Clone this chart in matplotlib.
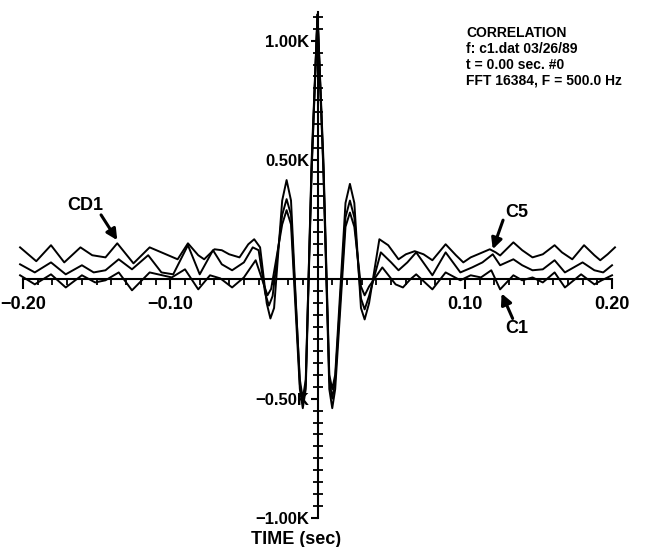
import numpy as np
import matplotlib
matplotlib.use('Agg')
import matplotlib.pyplot as plt
from matplotlib.ticker import MultipleLocator, FixedLocator

plt.rcParams['font.family'] = ['Liberation Sans Narrow', 'Liberation Sans', 'DejaVu Sans']

# time (sec) and correlation (K)
t_cd1 = [-0.202, -0.191, -0.181, -0.172, -0.161, -0.153, -0.144, -0.136, -0.125, -0.114,
         -0.106, -0.095, -0.088, -0.081, -0.077, -0.070, -0.065, -0.060, -0.053, -0.047,
         -0.043, -0.039, -0.0345, -0.032, -0.0295, -0.024, -0.021, -0.018, -0.012, -0.010,
         -0.008, -0.004, 0.0, 0.004, 0.008, 0.010, 0.012, 0.019,
         0.022, 0.025, 0.0295, 0.032, 0.035, 0.042, 0.048, 0.055, 0.060, 0.066,
         0.072, 0.078, 0.087, 0.094, 0.099, 0.104, 0.109, 0.117, 0.121, 0.124,
         0.133, 0.139, 0.146, 0.153, 0.161, 0.166, 0.173, 0.181, 0.188, 0.192, 0.197, 0.202]
cd1 = [0.134, 0.076, 0.143, 0.071, 0.134, 0.101, 0.092, 0.151, 0.067, 0.134,
       0.113, 0.084, 0.151, 0.101, 0.084, 0.126, 0.122, 0.105, 0.092, 0.147,
       0.168, 0.134, -0.10, -0.164, -0.12, 0.33, 0.416, 0.33, -0.44, -0.52,
       -0.44, 0.50, 1.11, 0.50, -0.40, -0.46, -0.40, 0.32,
       0.40, 0.32, -0.12, -0.168, -0.10, 0.168, 0.143, 0.084, 0.105, 0.118,
       0.105, 0.080, 0.147, 0.101, 0.071, 0.092, 0.105, 0.126, 0.113, 0.100,
       0.155, 0.122, 0.092, 0.105, 0.143, 0.113, 0.084, 0.143, 0.101, 0.080, 0.105, 0.134]

t_c5 = [-0.202, -0.192, -0.181, -0.171, -0.160, -0.152, -0.144, -0.135, -0.126, -0.115,
        -0.106, -0.098, -0.088, -0.080, -0.071, -0.065, -0.058, -0.050, -0.044, -0.040,
        -0.0355, -0.033, -0.0305, -0.024, -0.021, -0.018, -0.012, -0.010, -0.008, -0.004,
        0.0, 0.004, 0.008, 0.010, 0.012, 0.019, 0.022, 0.025, 0.0295, 0.032,
        0.035, 0.043, 0.050, 0.055, 0.061, 0.067, 0.078, 0.087, 0.097, 0.105,
        0.112, 0.119, 0.124, 0.133, 0.139, 0.146, 0.153, 0.161, 0.168, 0.180,
        0.188, 0.194, 0.200]
c5 = [0.063, 0.029, 0.071, 0.021, 0.059, 0.029, 0.038, 0.084, 0.042, 0.101,
      0.029, 0.021, 0.143, 0.021, 0.122, 0.063, 0.038, 0.071, 0.134, 0.122,
      -0.06, -0.11, -0.07, 0.27, 0.336, 0.27, -0.42, -0.50, -0.42, 0.47,
      1.11, 0.47, -0.42, -0.50, -0.42, 0.26, 0.33, 0.26, -0.08, -0.126,
      -0.07, 0.113, 0.071, 0.038, 0.071, 0.113, 0.017, 0.113, 0.029, 0.050,
      0.071, 0.105, 0.059, 0.084, 0.059, 0.038, 0.042, 0.080, 0.029, 0.071,
      0.038, 0.029, 0.059]

t_c1 = [-0.202, -0.192, -0.181, -0.171, -0.160, -0.151, -0.144, -0.135, -0.126, -0.114,
        -0.099, -0.090, -0.081, -0.073, -0.066, -0.058, -0.050, -0.042, -0.036, -0.034,
        -0.0315, -0.024, -0.021, -0.018, -0.012, -0.010, -0.008, -0.004, 0.0, 0.004,
        0.008, 0.010, 0.012, 0.019, 0.022, 0.025, 0.0295, 0.032, 0.035, 0.044,
        0.053, 0.058, 0.063, 0.067, 0.078, 0.087, 0.097, 0.104, 0.111, 0.118,
        0.124, 0.133, 0.139, 0.146, 0.153, 0.161, 0.168, 0.179, 0.188, 0.193,
        0.200]
c1 = [0.017, -0.021, 0.021, -0.034, 0.017, -0.013, -0.004, 0.029, -0.046, 0.029,
      0.008, 0.042, -0.042, 0.017, 0.004, -0.034, 0.008, 0.080, -0.03, -0.067,
      -0.04, 0.23, 0.29, 0.23, -0.46, -0.54, -0.46, 0.45, 1.11, 0.45,
      -0.46, -0.54, -0.46, 0.22, 0.28, 0.22, -0.03, -0.067, -0.03, 0.050,
      -0.021, -0.034, 0.000, 0.021, -0.042, 0.029, -0.004, 0.017, 0.008, 0.038,
      -0.042, 0.017, -0.004, 0.008, -0.013, 0.029, -0.034, 0.021, -0.021, -0.004,
      0.017]

info = 'CORRELATION\nf: c1.dat 03/26/89\nt = 0.00 sec. #0\nFFT 16384, F = 500.0 Hz'

fig = plt.figure(figsize=(6.52, 5.47), dpi=100)
ax = fig.add_axes([0.0353, 0.053, 0.9034, 0.925])

for t, c in [(t_cd1, cd1), (t_c5, c5), (t_c1, c1)]:
    ax.plot(t, c, color='black', lw=1.4, solid_joinstyle='round', clip_on=False)

ax.set_xlim(-0.2, 0.2)
ax.set_ylim(-1.0, 1.12)

ax.spines['left'].set_position(('data', 0))
ax.spines['bottom'].set_position(('data', 0))
ax.spines['top'].set_visible(False)
ax.spines['right'].set_visible(False)
ax.spines['left'].set_linewidth(1.5)
ax.spines['bottom'].set_linewidth(1.5)

ax.xaxis.set_major_locator(FixedLocator([-0.2, -0.1, 0.1, 0.2]))
ax.xaxis.set_minor_locator(MultipleLocator(0.01))
ax.set_xticklabels(['\u22120.20', '\u22120.10', '0.10', '0.20'])
ax.yaxis.set_major_locator(FixedLocator([-1.0, -0.5, 0.5, 1.0]))
ax.yaxis.set_minor_locator(MultipleLocator(0.05))
ax.set_yticklabels(['\u22121.00K', '\u22120.50K', '0.50K', '1.00K'])

ax.tick_params(axis='x', which='major', direction='out', length=7, width=1.5,
               pad=5, labelsize=13)
ax.tick_params(axis='x', which='minor', direction='out', length=4, width=1.3)
ax.tick_params(axis='y', which='major', direction='out', length=5, width=1.5,
               pad=1, labelsize=12)
ax.tick_params(axis='y', which='minor', direction='inout', length=7, width=1.3)
for lab in ax.get_xticklabels() + ax.get_yticklabels():
    lab.set_fontweight('bold')

ax.text(-0.0146, -1.09, 'TIME (sec)', ha='center', va='center', fontsize=13,
        fontweight='bold', clip_on=False)
ax.text(0.101, 1.06, info, ha='left', va='top', fontsize=10, fontweight='bold',
        linespacing=1.15)

ax.text(-0.158, 0.31, 'CD1', ha='center', va='center', fontsize=13, fontweight='bold')
ax.text(0.135, 0.28, 'C5', ha='center', va='center', fontsize=13, fontweight='bold')
ax.text(0.135, -0.205, 'C1', ha='center', va='center', fontsize=13, fontweight='bold')

arrow = dict(arrowstyle='-|>', color='black', lw=2.2, mutation_scale=16,
             shrinkA=0, shrinkB=0)
ax.annotate('', xy=(-0.136, 0.164), xytext=(-0.147, 0.27), arrowprops=arrow)
ax.annotate('', xy=(0.119, 0.126), xytext=(0.126, 0.248), arrowprops=arrow)
ax.annotate('', xy=(0.125, -0.059), xytext=(0.1325, -0.164), arrowprops=arrow)

fig.savefig('out.png', dpi=100)
